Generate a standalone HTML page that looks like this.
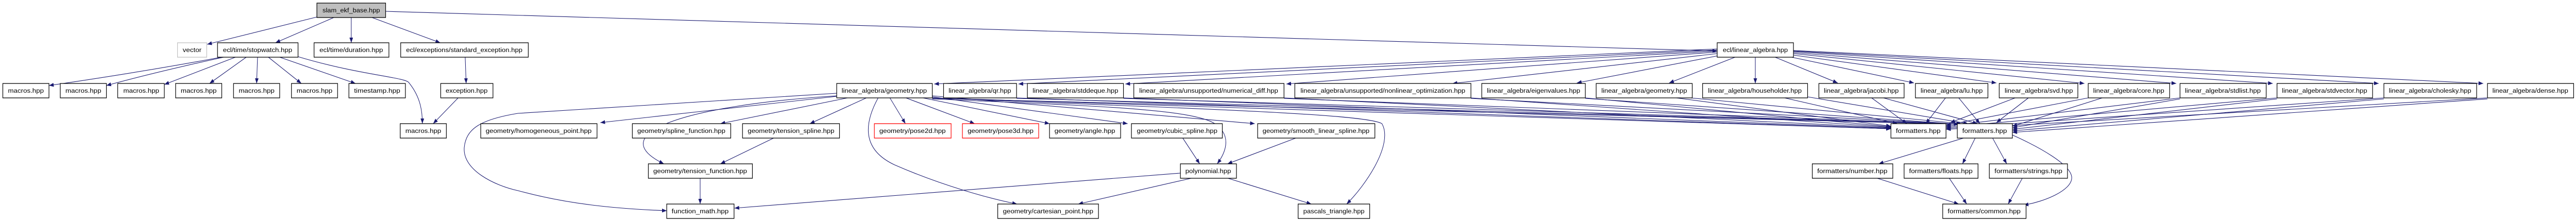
<!DOCTYPE html>
<html><head><meta charset="utf-8"><style>
html,body{margin:0;padding:0;background:#fff;width:100%;height:100%;overflow:hidden;}
svg{display:block;position:absolute;left:0;top:0;width:100vw;height:100vh;}
text{font-family:"Liberation Sans",sans-serif;font-size:12px;fill:#000;}
.b{fill:#fff;stroke:#000;stroke-width:1.3;}
.e{fill:none;stroke:#191970;stroke-width:1.1;marker-end:url(#a);}
</style></head><body>
<svg viewBox="0 0 5471 427" preserveAspectRatio="none" xmlns="http://www.w3.org/2000/svg">
<defs><marker id="a" markerUnits="userSpaceOnUse" markerWidth="11" markerHeight="8" refX="10" refY="3.8" orient="auto"><path d="M0,0 L10,3.8 L0,7.6 z" fill="#191970"/></marker></defs>
<g>
<path class="e" d="M673,33 L440,86"/>
<path class="e" d="M709,34 L585,83"/>
<path class="e" d="M746,34 L746,83"/>
<path class="e" d="M790,34 L935,83"/>
<path class="e" d="M819,22 L3647,99"/>
<path class="e" d="M470,111 Q300,140 104,166"/>
<path class="e" d="M475,111 Q330,140 226,166"/>
<path class="e" d="M500,111 L349,164"/>
<path class="e" d="M523,111 L445,162"/>
<path class="e" d="M547,111 L545,162"/>
<path class="e" d="M570,111 L640,162"/>
<path class="e" d="M594,111 L755,162"/>
<path class="e" d="M633,110 C760,145 860,150 868,160 C895,190 897,220 897,240"/>
<path class="e" d="M988,111 L990,162"/>
<path class="e" d="M973,190 L920,240"/>
<path class="e" d="M3647,95 L1984,163"/>
<path class="e" d="M3647,97 L2163,163"/>
<path class="e" d="M3647,99 L2390,163"/>
<path class="e" d="M3647,101 L2732,163"/>
<path class="e" d="M3647,104 L3085,162"/>
<path class="e" d="M3650,108 L3349,161"/>
<path class="e" d="M3685,111 L3545,161"/>
<path class="e" d="M3728,111 L3728,162"/>
<path class="e" d="M3770,111 L3903,161"/>
<path class="e" d="M3805,111 L4065,161"/>
<path class="e" d="M3809,107 L4240,161"/>
<path class="e" d="M3809,104 L4427,162"/>
<path class="e" d="M3809,102 L4622,162"/>
<path class="e" d="M3809,100 L4827,162"/>
<path class="e" d="M3809,99 L5052,162"/>
<path class="e" d="M3809,98 L5274,162"/>
<path class="e" d="M1777,187 L1275,238"/>
<path class="e" d="M1800,190 L1530,240"/>
<path class="e" d="M1840,190 L1720,240"/>
<path class="e" d="M1890,190 L1923,240"/>
<path class="e" d="M1924,190 L2070,240"/>
<path class="e" d="M1960,190 L2229,240"/>
<path class="e" d="M1980,188 L2395,240"/>
<path class="e" d="M1980,186 L2665,240"/>
<path class="e" d="M1777,186 C1450,205 1280,260 1410,318"/>
<path class="e" d="M1777,181 L1100,220 C1020,232 990,250 986,286 C982,330 1050,360 1100,370 C1200,395 1300,405 1416,409"/>
<path class="e" d="M1865,190 C1835,240 1830,290 1900,320 C2000,360 2100,385 2160,396"/>
<path class="e" d="M1980,192 C2300,205 2530,210 2580,240 C2620,265 2600,300 2585,318"/>
<path class="e" d="M1980,190 C2500,210 2900,220 2935,240 C2960,280 2900,360 2860,396"/>
<path class="e" d="M1980,190 L4016,250"/><path class="e" d="M1980,191 L4160,241"/>
<path class="e" d="M2159,190 L4016,250"/><path class="e" d="M2159,191 L4160,241"/>
<path class="e" d="M2386,190 L4016,249"/><path class="e" d="M2386,191 L4160,241"/>
<path class="e" d="M2727,190 L4016,248"/><path class="e" d="M2727,191 L4160,241"/>
<path class="e" d="M3124,190 L4016,247"/><path class="e" d="M3124,191 L4160,241"/>
<path class="e" d="M3367,190 L4016,246"/><path class="e" d="M3367,191 L4160,241"/>
<path class="e" d="M3560,190 L4016,245"/><path class="e" d="M3590,190 L4165,240"/>
<path class="e" d="M3790,190 L4030,240"/><path class="e" d="M3839,188 L4180,240"/>
<path class="e" d="M3975,190 L4050,240"/><path class="e" d="M4000,190 L4200,240"/>
<path class="e" d="M4132,190 L4090,240"/><path class="e" d="M4160,190 L4205,240"/>
<path class="e" d="M4280,190 L4142,238"/><path class="e" d="M4308,190 L4240,238"/>
<path class="e" d="M4435,190 L4133,243"/><path class="e" d="M4465,190 L4274,245"/>
<path class="e" d="M4630,190 L4133,245"/><path class="e" d="M4630,192 L4274,248"/>
<path class="e" d="M4836,190 L4133,247"/><path class="e" d="M4836,192 L4274,251"/>
<path class="e" d="M5063,190 L4133,249"/><path class="e" d="M5063,192 L4274,254"/>
<path class="e" d="M5283,190 L4133,251"/><path class="e" d="M5283,192 L4274,257"/>
<path class="e" d="M4170,268 L3990,318"/>
<path class="e" d="M4195,268 L4168,318"/>
<path class="e" d="M4232,268 L4262,318"/>
<path class="e" d="M4274,262 C4330,285 4400,320 4400,345 C4400,370 4340,392 4298,398"/>
<path class="e" d="M3987,346 L4160,396"/>
<path class="e" d="M4140,346 L4177,396"/>
<path class="e" d="M4295,346 L4265,396"/>
<path class="e" d="M2507,336 L1560,404"/>
<path class="e" d="M2530,346 L2290,396"/>
<path class="e" d="M2608,346 L2785,396"/>
<path class="e" d="M2512,268 L2548,318"/>
<path class="e" d="M2752,268 L2607,318"/>
<path class="e" d="M1643,268 L1530,318"/>
<path class="e" d="M1487,346 L1487,396"/>
</g>
<g>
<rect x="673" y="6" width="146" height="28" fill="#bfbfbf" stroke="#000" stroke-width="1.3"/><text x="746" y="24" text-anchor="middle" textLength="122" lengthAdjust="spacingAndGlyphs">slam_ekf_base.hpp</text>
<rect x="377" y="83" width="62" height="28" fill="#fff" stroke="#bfbfbf" stroke-width="1.3"/><text x="408" y="101" text-anchor="middle" textLength="40" lengthAdjust="spacingAndGlyphs">vector</text>
<rect class="b" x="462" y="83" width="171" height="28"/><text x="547" y="101" text-anchor="middle" textLength="147" lengthAdjust="spacingAndGlyphs">ecl/time/stopwatch.hpp</text>
<rect class="b" x="667" y="83" width="159" height="28"/><text x="746" y="101" text-anchor="middle" textLength="135" lengthAdjust="spacingAndGlyphs">ecl/time/duration.hpp</text>
<rect class="b" x="851" y="83" width="271" height="28"/><text x="986" y="101" text-anchor="middle" textLength="247" lengthAdjust="spacingAndGlyphs">ecl/exceptions/standard_exception.hpp</text>
<rect class="b" x="3647" y="83" width="162" height="28"/><text x="3728" y="101" text-anchor="middle" textLength="138" lengthAdjust="spacingAndGlyphs">ecl/linear_algebra.hpp</text>

<rect class="b" x="6" y="162" width="98" height="28"/><text x="55" y="180" text-anchor="middle" textLength="76" lengthAdjust="spacingAndGlyphs">macros.hpp</text>
<rect class="b" x="128" y="162" width="98" height="28"/><text x="177" y="180" text-anchor="middle" textLength="76" lengthAdjust="spacingAndGlyphs">macros.hpp</text>
<rect class="b" x="250" y="162" width="99" height="28"/><text x="300" y="180" text-anchor="middle" textLength="76" lengthAdjust="spacingAndGlyphs">macros.hpp</text>
<rect class="b" x="373" y="162" width="98" height="28"/><text x="422" y="180" text-anchor="middle" textLength="76" lengthAdjust="spacingAndGlyphs">macros.hpp</text>
<rect class="b" x="496" y="162" width="98" height="28"/><text x="545" y="180" text-anchor="middle" textLength="76" lengthAdjust="spacingAndGlyphs">macros.hpp</text>
<rect class="b" x="619" y="162" width="98" height="28"/><text x="668" y="180" text-anchor="middle" textLength="76" lengthAdjust="spacingAndGlyphs">macros.hpp</text>
<rect class="b" x="741" y="162" width="120" height="28"/><text x="801" y="180" text-anchor="middle" textLength="98" lengthAdjust="spacingAndGlyphs">timestamp.hpp</text>
<rect class="b" x="936" y="162" width="111" height="28"/><text x="991" y="180" text-anchor="middle" textLength="89" lengthAdjust="spacingAndGlyphs">exception.hpp</text>

<rect class="b" x="1777" y="162" width="203" height="28"/><text x="1878" y="180" text-anchor="middle" textLength="181" lengthAdjust="spacingAndGlyphs">linear_algebra/geometry.hpp</text>
<rect class="b" x="2004" y="162" width="155" height="28"/><text x="2081" y="180" text-anchor="middle" textLength="133" lengthAdjust="spacingAndGlyphs">linear_algebra/qr.hpp</text>
<rect class="b" x="2182" y="162" width="204" height="28"/><text x="2284" y="180" text-anchor="middle" textLength="182" lengthAdjust="spacingAndGlyphs">linear_algebra/stddeque.hpp</text>
<rect class="b" x="2408" y="162" width="319" height="28"/><text x="2567" y="180" text-anchor="middle" textLength="295" lengthAdjust="spacingAndGlyphs">linear_algebra/unsupported/numerical_diff.hpp</text>
<rect class="b" x="2750" y="162" width="374" height="28"/><text x="2937" y="180" text-anchor="middle" textLength="350" lengthAdjust="spacingAndGlyphs">linear_algebra/unsupported/nonlinear_optimization.hpp</text>
<rect class="b" x="3147" y="162" width="220" height="28"/><text x="3257" y="180" text-anchor="middle" textLength="198" lengthAdjust="spacingAndGlyphs">linear_algebra/eigenvalues.hpp</text>
<rect class="b" x="3390" y="162" width="204" height="28"/><text x="3492" y="180" text-anchor="middle" textLength="182" lengthAdjust="spacingAndGlyphs">linear_algebra/geometry.hpp</text>
<rect class="b" x="3616" y="162" width="223" height="28"/><text x="3727" y="180" text-anchor="middle" textLength="199" lengthAdjust="spacingAndGlyphs">linear_algebra/householder.hpp</text>
<rect class="b" x="3863" y="162" width="181" height="28"/><text x="3953" y="180" text-anchor="middle" textLength="159" lengthAdjust="spacingAndGlyphs">linear_algebra/jacobi.hpp</text>
<rect class="b" x="4068" y="162" width="154" height="28"/><text x="4145" y="180" text-anchor="middle" textLength="132" lengthAdjust="spacingAndGlyphs">linear_algebra/lu.hpp</text>
<rect class="b" x="4246" y="162" width="167" height="28"/><text x="4330" y="180" text-anchor="middle" textLength="145" lengthAdjust="spacingAndGlyphs">linear_algebra/svd.hpp</text>
<rect class="b" x="4435" y="162" width="173" height="28"/><text x="4521" y="180" text-anchor="middle" textLength="151" lengthAdjust="spacingAndGlyphs">linear_algebra/core.hpp</text>
<rect class="b" x="4630" y="162" width="183" height="28"/><text x="4721" y="180" text-anchor="middle" textLength="161" lengthAdjust="spacingAndGlyphs">linear_algebra/stdlist.hpp</text>
<rect class="b" x="4836" y="162" width="203" height="28"/><text x="4937" y="180" text-anchor="middle" textLength="181" lengthAdjust="spacingAndGlyphs">linear_algebra/stdvector.hpp</text>
<rect class="b" x="5063" y="162" width="197" height="28"/><text x="5161" y="180" text-anchor="middle" textLength="175" lengthAdjust="spacingAndGlyphs">linear_algebra/cholesky.hpp</text>
<rect class="b" x="5283" y="162" width="183" height="28"/><text x="5374" y="180" text-anchor="middle" textLength="161" lengthAdjust="spacingAndGlyphs">linear_algebra/dense.hpp</text>

<rect class="b" x="850" y="240" width="98" height="28"/><text x="899" y="258" text-anchor="middle" textLength="76" lengthAdjust="spacingAndGlyphs">macros.hpp</text>
<rect class="b" x="1021" y="240" width="247" height="28"/><text x="1144" y="258" text-anchor="middle" textLength="225" lengthAdjust="spacingAndGlyphs">geometry/homogeneous_point.hpp</text>
<rect class="b" x="1343" y="240" width="209" height="28"/><text x="1447" y="258" text-anchor="middle" textLength="187" lengthAdjust="spacingAndGlyphs">geometry/spline_function.hpp</text>
<rect class="b" x="1577" y="240" width="206" height="28"/><text x="1680" y="258" text-anchor="middle" textLength="184" lengthAdjust="spacingAndGlyphs">geometry/tension_spline.hpp</text>
<rect x="1857" y="240" width="163" height="28" fill="#fff" stroke="#ff0000" stroke-width="1.3"/><text x="1938" y="258" text-anchor="middle" textLength="141" lengthAdjust="spacingAndGlyphs">geometry/pose2d.hpp</text>
<rect x="2044" y="240" width="162" height="28" fill="#fff" stroke="#ff0000" stroke-width="1.3"/><text x="2125" y="258" text-anchor="middle" textLength="140" lengthAdjust="spacingAndGlyphs">geometry/pose3d.hpp</text>
<rect class="b" x="2229" y="240" width="151" height="28"/><text x="2304" y="258" text-anchor="middle" textLength="129" lengthAdjust="spacingAndGlyphs">geometry/angle.hpp</text>
<rect class="b" x="2403" y="240" width="193" height="28"/><text x="2500" y="258" text-anchor="middle" textLength="171" lengthAdjust="spacingAndGlyphs">geometry/cubic_spline.hpp</text>
<rect class="b" x="2671" y="240" width="249" height="28"/><text x="2795" y="258" text-anchor="middle" textLength="227" lengthAdjust="spacingAndGlyphs">geometry/smooth_linear_spline.hpp</text>
<rect class="b" x="4016" y="240" width="117" height="28"/><text x="4074" y="258" text-anchor="middle" textLength="95" lengthAdjust="spacingAndGlyphs">formatters.hpp</text>
<rect class="b" x="4157" y="240" width="117" height="28"/><text x="4215" y="258" text-anchor="middle" textLength="95" lengthAdjust="spacingAndGlyphs">formatters.hpp</text>

<rect class="b" x="1377" y="318" width="221" height="28"/><text x="1487" y="336" text-anchor="middle" textLength="199" lengthAdjust="spacingAndGlyphs">geometry/tension_function.hpp</text>
<rect class="b" x="2507" y="318" width="119" height="28"/><text x="2566" y="336" text-anchor="middle" textLength="97" lengthAdjust="spacingAndGlyphs">polynomial.hpp</text>
<rect class="b" x="3849" y="318" width="171" height="28"/><text x="3934" y="336" text-anchor="middle" textLength="149" lengthAdjust="spacingAndGlyphs">formatters/number.hpp</text>
<rect class="b" x="4044" y="318" width="157" height="28"/><text x="4122" y="336" text-anchor="middle" textLength="135" lengthAdjust="spacingAndGlyphs">formatters/floats.hpp</text>
<rect class="b" x="4225" y="318" width="166" height="28"/><text x="4308" y="336" text-anchor="middle" textLength="144" lengthAdjust="spacingAndGlyphs">formatters/strings.hpp</text>

<rect class="b" x="1416" y="396" width="143" height="28"/><text x="1487" y="414" text-anchor="middle" textLength="121" lengthAdjust="spacingAndGlyphs">function_math.hpp</text>
<rect class="b" x="2119" y="396" width="214" height="28"/><text x="2226" y="414" text-anchor="middle" textLength="192" lengthAdjust="spacingAndGlyphs">geometry/cartesian_point.hpp</text>
<rect class="b" x="2757" y="396" width="152" height="28"/><text x="2833" y="414" text-anchor="middle" textLength="130" lengthAdjust="spacingAndGlyphs">pascals_triangle.hpp</text>
<rect class="b" x="4126" y="396" width="177" height="28"/><text x="4214" y="414" text-anchor="middle" textLength="155" lengthAdjust="spacingAndGlyphs">formatters/common.hpp</text>
</g>
</svg>
</body></html>
